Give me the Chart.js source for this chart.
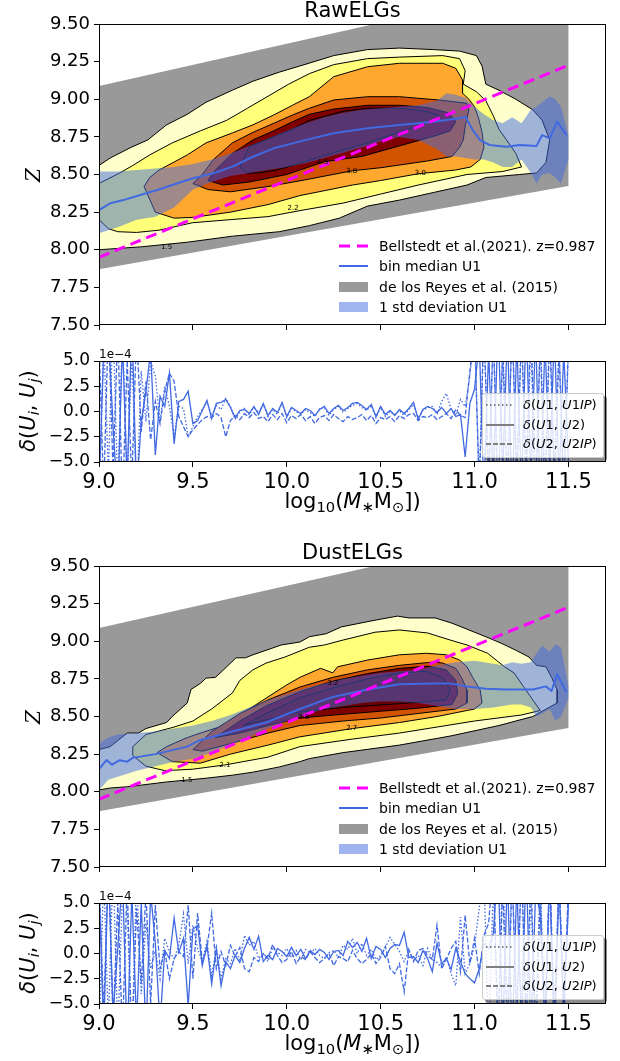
<!DOCTYPE html>
<html><head><meta charset="utf-8">
<script src="https://cdn.jsdelivr.net/npm/chart.js@4.4.1/dist/chart.umd.min.js"></script>
<style>
body{margin:0;background:#fff;}
#wrap{position:relative;width:620px;height:1061px;overflow:hidden;font-family:"DejaVu Sans",sans-serif;color:#000;background:#fff;}
canvas{position:absolute;left:0;}
.t{position:absolute;white-space:nowrap;}
.rot{position:absolute;white-space:nowrap;transform:translate(-50%,-50%) rotate(-90deg);}
.clab{position:absolute;font-size:7px;line-height:7px;transform:translate(-50%,-50%);white-space:nowrap;}
.rleg{position:absolute;background:rgba(255,255,255,0.8);border:1px solid #cccccc;border-radius:3px;box-shadow:3px 3px 0 rgba(0,0,0,0.45);}
.rleg .row{position:absolute;left:0;height:18px;}
.rleg svg{position:absolute;left:3px;top:7px;}
.rleg span{position:absolute;left:40px;top:0;font-size:13px;line-height:18px;white-space:nowrap;}
.mleg{position:absolute;}
.mleg svg{position:absolute;left:0;}
.mleg span{position:absolute;left:40px;font-size:14px;line-height:18px;top:-9px;white-space:nowrap;}
sub{font-size:70%;vertical-align:-0.25em;line-height:0;}
</style></head><body><div id="wrap"></div>
<script>
// ---------- axis ticks ----------
const xTicks = [9.0, 9.5, 10.0, 10.5, 11.0, 11.5];
const xTickLabels = ['9.0', '9.5', '10.0', '10.5', '11.0', '11.5'];
const zTicks = [7.5, 7.75, 8.0, 8.25, 8.5, 8.75, 9.0, 9.25, 9.5];
const zTickLabels = ['7.50', '7.75', '8.00', '8.25', '8.50', '8.75', '9.00', '9.25', '9.50'];
const dTicks = [-5, -2.5, 0, 2.5, 5];
const dTickLabels = ['\u22125.0', '\u22122.5', '0.0', '2.5', '5.0'];

// ---------- de los Reyes et al. (2015) band ----------
const reyesX = [9.0, 11.5];
const reyesTop = [9.088, 9.79];
const reyesBottom = [7.87, 8.424];

// ---------- Bellstedt et al. (2021) z=0.987 ----------
const bellX = [9.0, 11.5];
const bellZ = [7.95, 9.226];

// ---------- contour fill colours (outer -> inner) ----------
const levelColors = ['#ffffcc', '#ffff7a', '#fea830', '#d35400', '#800000', '#6b0000'];

// ---------- RawELGs contours [logM, Z] ----------
const rawC1 = [[9.0,8.0],[9.0,8.56],[9.06,8.61],[9.17,8.68],[9.26,8.73],[9.36,8.83],[9.47,8.90],[9.57,8.98],[9.71,9.06],[9.82,9.12],[9.96,9.18],[10.12,9.24],[10.25,9.29],[10.43,9.33],[10.6,9.34],[10.78,9.33],[10.92,9.32],[11.01,9.29],[11.04,9.22],[11.06,9.10],[11.13,9.06],[11.22,9.0],[11.31,8.93],[11.36,8.86],[11.40,8.73],[11.38,8.58],[11.33,8.51],[11.24,8.50],[11.06,8.48],[10.96,8.43],[10.78,8.38],[10.6,8.33],[10.43,8.29],[10.28,8.21],[10.12,8.16],[9.96,8.12],[9.71,8.09],[9.47,8.05],[9.23,8.02]];
const rawC2 = [[9.0,8.20],[9.0,8.44],[9.11,8.51],[9.18,8.56],[9.27,8.63],[9.39,8.71],[9.54,8.79],[9.68,8.86],[9.79,8.94],[9.90,9.02],[10.01,9.10],[10.12,9.17],[10.25,9.23],[10.43,9.27],[10.6,9.28],[10.83,9.29],[10.92,9.27],[10.95,9.19],[10.94,9.10],[11.01,9.05],[11.06,8.99],[11.10,8.89],[11.13,8.80],[11.17,8.73],[11.22,8.64],[11.25,8.55],[11.15,8.52],[10.96,8.50],[10.7,8.43],[10.5,8.37],[10.3,8.31],[10.07,8.26],[9.9,8.22],[9.7,8.20],[9.5,8.18],[9.32,8.13],[9.2,8.115],[9.1,8.12],[9.05,8.14]];
const rawC3 = [[9.24,8.42],[9.27,8.48],[9.32,8.53],[9.39,8.576],[9.47,8.63],[9.57,8.71],[9.71,8.776],[9.82,8.83],[9.93,8.895],[10.03,8.96],[10.12,9.017],[10.25,9.15],[10.43,9.216],[10.6,9.239],[10.83,9.239],[10.9,9.206],[10.936,9.128],[10.936,9.04],[10.97,9.0],[11.0,8.95],[11.02,8.88],[11.04,8.78],[11.05,8.68],[11.03,8.60],[10.98,8.55],[10.9,8.53],[10.7,8.505],[10.5,8.46],[10.35,8.43],[10.07,8.36],[9.9,8.30],[9.7,8.25],[9.5,8.215],[9.4,8.21],[9.3,8.25]];
const rawC4 = [[9.5,8.44],[9.55,8.50],[9.61,8.60],[9.71,8.71],[9.82,8.78],[9.93,8.84],[10.03,8.895],[10.12,8.94],[10.25,8.995],[10.43,9.017],[10.6,9.017],[10.81,8.995],[10.96,8.973],[10.97,8.93],[10.95,8.82],[10.94,8.73],[10.92,8.68],[10.88,8.62],[10.75,8.59],[10.5,8.545],[10.35,8.525],[10.1,8.465],[9.9,8.42],[9.7,8.385],[9.58,8.40]];
const rawC5 = [[9.58,8.46],[9.62,8.53],[9.71,8.64],[9.82,8.73],[9.93,8.79],[10.03,8.85],[10.12,8.90],[10.25,8.935],[10.43,8.96],[10.6,8.96],[10.75,8.945],[10.86,8.91],[10.9,8.85],[10.87,8.79],[10.8,8.76],[10.6,8.69],[10.4,8.62],[10.2,8.585],[10.0,8.50],[9.8,8.45],[9.66,8.43]];
const rawC6 = [[9.75,8.55],[9.80,8.685],[9.93,8.75],[10.03,8.80],[10.12,8.86],[10.30,8.92],[10.43,8.94],[10.6,8.94],[10.74,8.92],[10.81,8.895],[10.78,8.86],[10.6,8.78],[10.43,8.71],[10.25,8.645],[10.07,8.575],[9.95,8.53],[9.85,8.51],[9.79,8.51]];
const rawLabelText = ['1.5', '2.2', '3.0', '3.8', '4.5'];
const rawLabelX = [9.36, 10.034, 10.711, 10.346, 10.191];
const rawLabelZ = [8.02, 8.276, 8.508, 8.525, 8.585];

// ---------- RawELGs bin median U1 and 1 std ----------
const rawMedX = [9.0,9.06,9.13,9.22,9.31,9.39,9.50,9.61,9.71,9.82,9.93,10.03,10.12,10.25,10.43,10.6,10.78,10.92,10.95,10.96,10.99,11.03,11.08,11.17,11.24,11.33,11.36,11.4,11.44,11.49];
const rawMedZ = [8.264,8.309,8.33,8.364,8.397,8.43,8.475,8.508,8.552,8.618,8.674,8.707,8.735,8.774,8.807,8.829,8.851,8.873,8.884,8.862,8.796,8.729,8.696,8.685,8.696,8.69,8.762,8.74,8.851,8.762];
const rawStdX  = [9.0,9.1,9.2,9.3,9.4,9.5,9.6,9.7,9.8,9.9,10.0,10.1,10.2,10.3,10.4,10.5,10.6,10.7,10.8,10.85,10.9,10.95,11.0,11.05,11.1,11.15,11.2,11.25,11.3,11.33,11.36,11.4,11.43,11.46,11.5];
const rawStdHi = [8.52,8.52,8.53,8.54,8.55,8.57,8.60,8.64,8.69,8.74,8.79,8.84,8.88,8.91,8.93,8.94,8.95,8.96,8.99,9.04,9.03,9.01,8.95,8.90,8.86,8.84,8.88,8.84,8.93,8.95,8.98,9.02,9.0,8.95,8.76];
const rawStdLo = [8.11,8.15,8.20,8.22,8.28,8.40,8.45,8.49,8.51,8.53,8.55,8.575,8.61,8.645,8.68,8.72,8.75,8.73,8.67,8.62,8.62,8.61,8.60,8.60,8.58,8.55,8.55,8.60,8.51,8.44,8.50,8.51,8.48,8.44,8.60];

// ---------- DustELGs contours ----------
const dustC1 = [[9.0,8.012],[9.0,8.28],[9.06,8.30],[9.15,8.39],[9.21,8.39],[9.25,8.42],[9.36,8.46],[9.39,8.50],[9.47,8.59],[9.49,8.68],[9.54,8.72],[9.57,8.755],[9.62,8.76],[9.68,8.83],[9.73,8.89],[9.78,8.89],[9.82,8.91],[9.89,8.94],[9.97,8.975],[10.07,8.995],[10.12,9.03],[10.21,9.05],[10.29,9.095],[10.47,9.14],[10.59,9.167],[10.65,9.155],[10.79,9.155],[10.88,9.12],[10.97,9.075],[11.06,9.03],[11.14,8.988],[11.22,8.94],[11.29,8.895],[11.33,8.84],[11.38,8.83],[11.41,8.76],[11.44,8.676],[11.44,8.59],[11.31,8.50],[11.13,8.44],[10.87,8.37],[10.6,8.31],[10.3,8.26],[10.12,8.22],[10.07,8.20],[9.96,8.165],[9.82,8.13],[9.71,8.11],[9.57,8.09],[9.47,8.078],[9.36,8.065],[9.23,8.045],[9.15,8.033],[9.06,8.025]];
const dustC2 = [[9.18,8.24],[9.18,8.30],[9.25,8.38],[9.4,8.43],[9.5,8.47],[9.6,8.55],[9.71,8.656],[9.75,8.74],[9.82,8.81],[9.89,8.855],[9.99,8.895],[10.12,8.96],[10.2,8.975],[10.3,9.008],[10.47,9.06],[10.6,9.075],[10.75,9.055],[10.87,9.008],[10.96,8.975],[11.07,8.92],[11.16,8.83],[11.21,8.79],[11.26,8.70],[11.31,8.61],[11.35,8.54],[11.25,8.51],[11.0,8.47],[10.8,8.43],[10.6,8.39],[10.35,8.35],[10.07,8.30],[9.9,8.23],[9.67,8.178],[9.5,8.15],[9.35,8.14],[9.25,8.17]];
const dustC3 = [[9.31,8.26],[9.36,8.30],[9.47,8.36],[9.54,8.39],[9.64,8.43],[9.71,8.475],[9.8,8.55],[9.9,8.63],[10.0,8.71],[10.07,8.76],[10.18,8.82],[10.245,8.79],[10.27,8.83],[10.43,8.875],[10.6,8.91],[10.745,8.92],[10.85,8.91],[10.92,8.875],[10.96,8.83],[10.99,8.76],[11.03,8.676],[11.04,8.59],[11.0,8.55],[10.8,8.50],[10.6,8.46],[10.35,8.42],[10.07,8.365],[9.9,8.31],[9.7,8.25],[9.54,8.19],[9.39,8.20]];
const dustC4 = [[9.5,8.28],[9.6,8.40],[9.75,8.52],[9.9,8.61],[10.07,8.696],[10.245,8.76],[10.43,8.81],[10.6,8.84],[10.78,8.862],[10.83,8.855],[10.9,8.82],[10.93,8.76],[10.96,8.676],[10.96,8.59],[10.9,8.55],[10.7,8.52],[10.5,8.49],[10.3,8.47],[10.07,8.44],[9.9,8.39],[9.7,8.32],[9.55,8.27]];
const dustC5 = [[9.62,8.36],[9.75,8.47],[9.89,8.57],[10.07,8.665],[10.245,8.735],[10.43,8.785],[10.6,8.82],[10.75,8.835],[10.85,8.81],[10.9,8.74],[10.91,8.65],[10.88,8.58],[10.7,8.555],[10.5,8.535],[10.3,8.515],[10.07,8.49],[9.9,8.44],[9.75,8.39]];
const dustC6 = [[9.77,8.44],[9.89,8.52],[10.07,8.625],[10.245,8.69],[10.43,8.75],[10.6,8.79],[10.74,8.80],[10.83,8.76],[10.87,8.68],[10.85,8.61],[10.6,8.585],[10.3,8.56],[10.07,8.53],[9.9,8.48],[9.8,8.45]];
const dustLabelText = ['1.5', '2.1', '2.7', '3.2', '3.8'];
const dustLabelX = [9.468, 9.67, 10.346, 10.245, 10.09];
const dustLabelZ = [8.078, 8.178, 8.424, 8.723, 8.497];

// ---------- DustELGs bin median U1 and 1 std ----------
const dustMedX = [9.0,9.04,9.07,9.11,9.15,9.18,9.3,9.47,9.54,9.71,9.89,10.07,10.245,10.43,10.6,10.78,10.87,10.96,11.06,11.17,11.31,11.38,11.41,11.44,11.49];
const dustMedZ = [8.15,8.21,8.18,8.21,8.20,8.225,8.25,8.30,8.344,8.40,8.46,8.55,8.63,8.68,8.715,8.72,8.72,8.70,8.685,8.68,8.68,8.70,8.67,8.78,8.66];
const dustStdX  = [9.0,9.05,9.1,9.2,9.3,9.4,9.5,9.6,9.7,9.8,9.9,10.0,10.1,10.2,10.3,10.4,10.5,10.6,10.7,10.8,10.9,11.0,11.1,11.15,11.2,11.25,11.3,11.33,11.36,11.4,11.43,11.46,11.5];
const dustStdHi = [8.32,8.36,8.38,8.39,8.40,8.42,8.44,8.47,8.51,8.56,8.61,8.65,8.69,8.72,8.75,8.77,8.79,8.80,8.81,8.84,8.86,8.87,8.85,8.84,8.86,8.85,8.86,8.92,8.97,8.93,8.98,8.96,8.70];
const dustStdLo = [8.01,8.08,8.10,8.14,8.17,8.20,8.22,8.26,8.31,8.36,8.42,8.47,8.51,8.55,8.57,8.59,8.60,8.60,8.59,8.57,8.55,8.55,8.56,8.57,8.58,8.58,8.56,8.50,8.52,8.55,8.47,8.50,8.62];

// ---------- residuals delta(Ui,Uj), units of 1e-4 ----------
const resX = [9.000,9.025,9.050,9.075,9.100,9.125,9.150,9.175,9.200,9.225,
9.250,9.275,9.300,9.325,9.350,9.375,9.400,9.425,9.450,9.475,
9.500,9.525,9.550,9.575,9.600,9.625,9.650,9.675,9.700,9.725,
9.750,9.775,9.800,9.825,9.850,9.875,9.900,9.925,9.950,9.975,
10.000,10.025,10.050,10.075,10.100,10.125,10.150,10.175,10.200,10.225,
10.250,10.275,10.300,10.325,10.350,10.375,10.400,10.425,10.450,10.475,
10.500,10.525,10.550,10.575,10.600,10.625,10.650,10.675,10.700,10.725,
10.750,10.775,10.800,10.825,10.850,10.875,10.900,10.925,10.950,10.975,
11.000,11.025,11.050,11.075,11.100,11.125,11.150,11.175,11.200,11.225,
11.250,11.275,11.300,11.325,11.350,11.375,11.400,11.425,11.450,11.475,
11.500];
const rawU1U1IP = [-9,7,-6,9,-8,8,-7,6,-9,4,
-1,5,3.5,-1,2.5,0.5,-2.5,0.5,0.3,-2.5,
-1.5,-0.5,0.2,0.9,-0.4,0.6,0.2,1.3,0.5,-0.8,
0.0,0.3,-0.3,0.4,-0.1,0.7,-0.5,0.2,-0.3,0.8,
-0.6,0.3,0.0,-0.3,0.2,-0.1,-0.5,0.3,0.4,-0.4,
0.2,0.5,-0.1,0.3,0.6,0.8,0.4,0.1,0.6,-0.6,
0.4,-0.5,0.0,-0.3,0.1,-0.4,0.2,0.7,-0.6,0.1,
0.4,0.5,-0.3,1.0,1.8,0.2,-0.4,1.2,0.5,3.5,
8,-7,9,-8,8,-9,7,-7,9,-6,
8,-8,7,-9,8,-7,9,-6,7,-8,
6];
const rawU1U2 = [-8,6,8,-1.5,-9,7,-7,9,-8,-1,
2,6,-4.3,1.5,0.5,3.8,-3.2,1.0,1.2,2.0,
-1.2,-0.9,0.1,1.1,-0.7,0.8,0.9,1.2,0.4,-0.6,
0.1,0.2,-0.2,0.5,-0.3,0.8,-0.4,0.3,-0.1,0.9,
-0.5,0.4,0.1,-0.2,0.3,0.1,-0.4,0.2,0.5,-0.2,
0.3,0.6,0.1,0.4,0.8,0.9,0.6,0.2,0.7,-0.5,
0.5,-0.3,0.1,-0.4,0.2,-0.2,0.3,0.9,-0.8,0.2,
0.5,0.3,-0.1,0.4,-0.2,0.3,-0.5,-0.3,-4.5,0.8,
2.2,7,-8,6,-7,9,-6,8,-9,7,
-8,9,-7,8,-9,7,-6,8,-7,6,
-5];
const rawU2U2IP = [7,-8,9,-6,8,-9,5,-7,8,-2,
3,-2.8,1.0,-1.2,2.0,3.8,3.0,-0.5,-1.5,-2.5,
-1.8,-1.3,-0.8,-0.5,-0.6,-0.2,-0.6,-2.5,-0.9,-0.4,
-0.8,-0.2,-0.6,-0.1,-0.7,-0.5,-1.0,-0.3,-0.8,-0.2,
-1.1,-0.4,-0.7,-0.3,-0.9,-0.5,-1.2,-0.6,-0.4,-0.9,
-0.3,-0.7,-1.0,-0.5,-0.8,-0.6,-0.3,-0.9,-0.4,-1.2,
-0.6,-0.8,-0.5,-1.0,-0.4,-0.7,-0.3,-0.2,-0.9,-0.5,
-0.6,-0.3,-0.8,-0.5,-0.2,-0.7,0.2,-0.4,-0.6,4,
8,-8,9,-7,8,-9,6,-8,9,-7,
8,-6,9,-8,7,-9,8,-7,6,-8,
7];
const dustU1U1IP = [-9,8,-7,9,-8,6,4.5,-9,8,-4,
3,-1.5,0.3,-2.5,1.5,0.2,-0.5,0.8,3.9,-1.0,
2.8,0.5,-0.8,1.2,-2.2,0.6,-2.5,-0.5,-1.0,0.5,
-0.7,1.8,0.8,1.2,-0.5,0.0,-0.8,0.6,0.1,-0.2,
0.5,-0.4,0.3,-0.6,0.4,0.0,0.5,-0.2,-0.5,0.1,
0.3,-0.4,0.8,0.4,1.5,0.0,1.0,-0.2,0.4,-0.6,
-0.2,0.6,1.6,0.9,0.2,-0.8,0.3,-0.7,-0.2,-1.2,
0.5,-0.6,-0.9,-1.4,-0.3,-2.0,-3.2,3.6,-2.0,-1.0,
0.8,4.5,8,-9,7,-8,9,-6,8,-7,
9,-8,6,-7,8,-9,7,-6,8,-7,
5];
const dustU1U2 = [7,-8,9,-6,0.5,8,-9,6,-7,5,
-8,6,1.0,-7,0.3,-0.5,3.5,0.1,1.5,-5.2,
2.4,2.8,-1.2,0.8,-3.0,0.5,-3.2,-0.8,-1.5,-0.2,
-0.9,0.5,1.6,0.4,1.7,-0.8,-0.2,-0.6,0.5,0.2,
-0.3,0.6,-0.2,0.4,-0.5,0.3,-0.1,0.4,0.1,-0.6,
0.2,0.3,-0.2,1.2,0.6,1.1,0.2,1.5,-0.5,0.7,
0.4,-0.4,0.5,0.9,0.8,2.1,-0.4,-0.3,-0.9,0.3,
-0.5,-1.8,1.0,-1.0,-0.5,-1.6,0.5,-0.8,-2.0,-2.5,
-2.9,-1.5,1.0,0.5,2.0,9,-8,8,-9,7,
-7,9,-8,6,4,-7,8,-9,7,-6,
5];
const dustU2U2IP = [8,-6,9,-7,5,-8,7,-9,4.5,-3,
6,-5,4.8,-1.5,0.3,-2.5,-0.5,0.2,-0.3,4.8,
-2.5,4.0,-0.8,0.5,4.0,-1.5,0.2,-1.2,0.8,-0.3,
0.6,-1.5,-1.8,-0.4,-0.8,0.0,-0.5,0.9,-0.2,-0.9,
-0.6,0.2,-1.0,-0.3,-0.6,0.2,-0.4,-0.9,-0.5,0.0,
-1.2,-0.3,-0.5,-0.8,0.3,-0.5,-1.0,-0.6,0.0,-1.0,
-0.4,0.7,-1.5,-2.0,-1.0,-3.8,0.4,-0.8,0.3,0.5,
-0.2,-0.6,2.8,-1.5,-0.6,0.5,1.2,-1.8,3.8,-1.0,
1.5,-2.0,1.8,3.0,9,-8,7,-9,8,-6,
9,-7,8,-9,6,-8,9,-7,8,-6,
7];

// ================= rendering =================
const FONT = '"DejaVu Sans", sans-serif';
Chart.defaults.font.family = FONT;
Chart.defaults.color = '#000';
const wrap = document.getElementById('wrap');

function el(cls, html, css) {
  const d = document.createElement('div');
  d.className = cls; d.innerHTML = html;
  Object.assign(d.style, css);
  wrap.appendChild(d); return d;
}
function addCanvas(top, h) {
  const c = document.createElement('canvas');
  c.width = 620; c.height = h; c.style.top = top + 'px';
  c.style.width = '620px'; c.style.height = h + 'px';
  wrap.appendChild(c); return c;
}
function pts(list, close) {
  const d = list.map(p => ({x: p[0], y: p[1]}));
  if (close) d.push({x: list[0][0], y: list[0][1]});
  return d;
}
function bandPts(xs, hi, lo) {
  const out = [];
  xs.forEach((x, i) => out.push([x, hi[i]]));
  for (let i = xs.length - 1; i >= 0; i--) out.push([xs[i], lo[i]]);
  return out;
}
function series(xs, ys) { return xs.map((x, i) => ({x: x, y: ys[i]})); }

const framePlugin = {
  id: 'frame',
  afterDatasetsDraw(chart) {
    const {ctx, chartArea: a} = chart;
    ctx.save();
    ctx.strokeStyle = '#000'; ctx.lineWidth = 1;
    ctx.strokeRect(Math.round(a.left) + 0.5, Math.round(a.top) + 0.5,
                   Math.round(a.right - a.left) - 1, Math.round(a.bottom - a.top) - 1);
    ctx.restore();
  }
};

function tickGrid() {
  return {drawOnChartArea: false, drawTicks: true, tickLength: 5, color: '#000', tickColor: '#000', lineWidth: 1, tickWidth: 1};
}

function mainChart(top, set) {
  const cv = addCanvas(top, 345);
  const ds = [];
  ds.push({data: pts(bandPts(reyesX, reyesTop, reyesBottom)), fill: 'shape', backgroundColor: '#999999', borderWidth: 0, order: 100});
  set.contours.forEach((c, i) => ds.push({data: pts(c, true), fill: 'shape', backgroundColor: levelColors[i], borderColor: '#000', borderWidth: 1, order: 90 - i}));
  ds.push({data: pts(bandPts(set.stdX, set.stdHi, set.stdLo)), fill: 'shape', backgroundColor: 'rgba(65,105,225,0.5)', borderWidth: 0, order: 50});
  ds.push({data: series(set.medX, set.medZ), borderColor: '#4169e1', borderWidth: 2, fill: false, order: 40});
  ds.push({data: series(bellX, bellZ), borderColor: '#ff00ff', borderWidth: 3, borderDash: [11, 6], fill: false, order: 30});
  ds.forEach(d => { d.pointRadius = 0; d.tension = 0; d.borderJoinStyle = 'round'; });
  const chart = new Chart(cv, {
    type: 'line',
    data: {datasets: ds},
    options: {
      responsive: false, animation: false, events: [], devicePixelRatio: 1,
      layout: {padding: {top: 24, right: 14, left: 0, bottom: 0}},
      plugins: {legend: {display: false}, tooltip: {enabled: false}},
      scales: {
        x: {type: 'linear', min: 9, max: 11.7,
            afterBuildTicks: s => { s.ticks = xTicks.map(v => ({value: v})); },
            afterFit: s => { s.height = 20; },
            ticks: {display: false}, grid: tickGrid(), border: {display: false}},
        y: {type: 'linear', min: 7.5, max: 9.5,
            afterBuildTicks: s => { s.ticks = zTicks.map(v => ({value: v})); },
            afterFit: s => { s.width = 99; },
            ticks: {callback: v => zTickLabels[zTicks.indexOf(v)], font: {size: 18}, color: '#000', padding: 4},
            grid: tickGrid(), border: {display: false}}
      }
    },
    plugins: [framePlugin]
  });
  set.labText.forEach((t, i) => {
    const px = chart.scales.x.getPixelForValue(set.labX[i]);
    const py = chart.scales.y.getPixelForValue(set.labZ[i]) + top;
    el('clab', t, {left: px + 'px', top: py + 'px'});
  });
  return chart;
}

function resChart(top, a, b, c) {
  const cv = addCanvas(top, 160);
  const base = {borderColor: '#4169e1', borderWidth: 1.3, fill: false, pointRadius: 0, tension: 0};
  const ds = [
    Object.assign({data: series(resX, a), borderDash: [1.5, 2]}, base),
    Object.assign({data: series(resX, b)}, base),
    Object.assign({data: series(resX, c), borderDash: [5, 2]}, base)
  ];
  return new Chart(cv, {
    type: 'line',
    data: {datasets: ds},
    options: {
      responsive: false, animation: false, events: [], devicePixelRatio: 1,
      layout: {padding: {top: 21, right: 14, left: 0, bottom: 0}},
      plugins: {legend: {display: false}, tooltip: {enabled: false}},
      scales: {
        x: {type: 'linear', min: 9, max: 11.7,
            afterBuildTicks: s => { s.ticks = xTicks.map(v => ({value: v})); },
            afterFit: s => { s.height = 38; },
            ticks: {callback: v => xTickLabels[xTicks.indexOf(v)], font: {size: 21}, color: '#000', padding: 3, maxRotation: 0, autoSkip: false},
            grid: tickGrid(), border: {display: false}},
        y: {type: 'linear', min: -5, max: 5,
            afterBuildTicks: s => { s.ticks = dTicks.map(v => ({value: v})); },
            afterFit: s => { s.width = 99; },
            ticks: {callback: v => dTickLabels[dTicks.indexOf(v)], font: {size: 17}, color: '#000', padding: 4},
            grid: tickGrid(), border: {display: false}}
      }
    },
    plugins: [framePlugin]
  });
}

function svgLine(color, w, dash, len) {
  return '<svg width="' + len + '" height="8"><line x1="0" y1="4" x2="' + len + '" y2="4" stroke="' + color + '" stroke-width="' + w + '"' + (dash ? ' stroke-dasharray="' + dash + '"' : '') + '/></svg>';
}
function svgRect(color) {
  return '<svg width="29" height="10"><rect x="0" y="0" width="29" height="10" fill="' + color + '"/></svg>';
}

function figure(dy, title, set, ra, rb, rc) {
  mainChart(dy, set);
  resChart(340 + dy, ra, rb, rc);
  el('t', title, {left: '0px', width: '705px', textAlign: 'center', top: (dy - 2) + 'px', fontSize: '21px', lineHeight: '24px'});
  el('rot', '<span style="font-family:\'DejaVu Serif\',serif;font-style:italic;">Z</span>', {left: '33px', top: (175 + dy) + 'px', fontSize: '20px', lineHeight: '22px'});
  const rows = [
    [svgLine('#ff00ff', 3, '11,7', 30), 'Bellstedt et al.(2021). z=0.987'],
    [svgLine('#4169e1', 2, null, 29), 'bin median U1'],
    [svgRect('#999999'), 'de los Reyes et al. (2015)'],
    [svgRect('rgba(65,105,225,0.5)'), '1 std deviation U1']
  ];
  const ry = [245.5, 266, 286.5, 306.5];
  rows.forEach((r, i) => {
    const d = el('mleg', '', {left: '339px', top: (ry[i] + dy) + 'px'});
    const isRect = i >= 2;
    d.innerHTML = r[0].replace('<svg', '<svg style="top:' + (isRect ? -5 : -4) + 'px"') + '<span>' + r[1] + '</span>';
  });
  el('rot', '<i>\u03b4</i>(<i>U<sub>i</sub></i>, <i>U<sub>j</sub></i>)', {left: '28px', top: (411 + dy) + 'px', fontSize: '21px', lineHeight: '24px'});
  el('t', '1e\u22124', {left: '99px', top: (348 + dy) + 'px', fontSize: '12px', lineHeight: '12px'});
  el('t', 'log<sub>10</sub>(<i>M</i><sub>\u2217</sub>M<sub>\u2299</sub>])', {left: '0px', width: '705px', textAlign: 'center', top: (489 + dy) + 'px', fontSize: '21px', lineHeight: '24px'});
  const lg = el('rleg', '', {left: '482px', top: (393 + dy) + 'px', width: '120px', height: '63px'});
  const lrows = [
    ['1.5,2.5', '<i>\u03b4</i>(<i>U</i>1, <i>U</i>1<i>IP</i>)'],
    [null, '<i>\u03b4</i>(<i>U</i>1, <i>U</i>2)'],
    ['5,2', '<i>\u03b4</i>(<i>U</i>2, <i>U</i>2<i>IP</i>)']
  ];
  lrows.forEach((r, i) => {
    const row = document.createElement('div');
    row.className = 'row';
    row.style.top = (2 + i * 19.5) + 'px';
    row.style.width = '120px';
    row.innerHTML = svgLine('#808080', 2, r[0], 28).replace('<svg', '<svg style="top:5px"') + '<span>' + r[1] + '</span>';
    lg.appendChild(row);
  });
}

figure(0, 'RawELGs', {
  contours: [rawC1, rawC2, rawC3, rawC4, rawC5, rawC6],
  medX: rawMedX, medZ: rawMedZ, stdX: rawStdX, stdHi: rawStdHi, stdLo: rawStdLo,
  labText: rawLabelText, labX: rawLabelX, labZ: rawLabelZ
}, rawU1U1IP, rawU1U2, rawU2U2IP);

figure(542, 'DustELGs', {
  contours: [dustC1, dustC2, dustC3, dustC4, dustC5, dustC6],
  medX: dustMedX, medZ: dustMedZ, stdX: dustStdX, stdHi: dustStdHi, stdLo: dustStdLo,
  labText: dustLabelText, labX: dustLabelX, labZ: dustLabelZ
}, dustU1U1IP, dustU1U2, dustU2U2IP);
</script></body></html>
